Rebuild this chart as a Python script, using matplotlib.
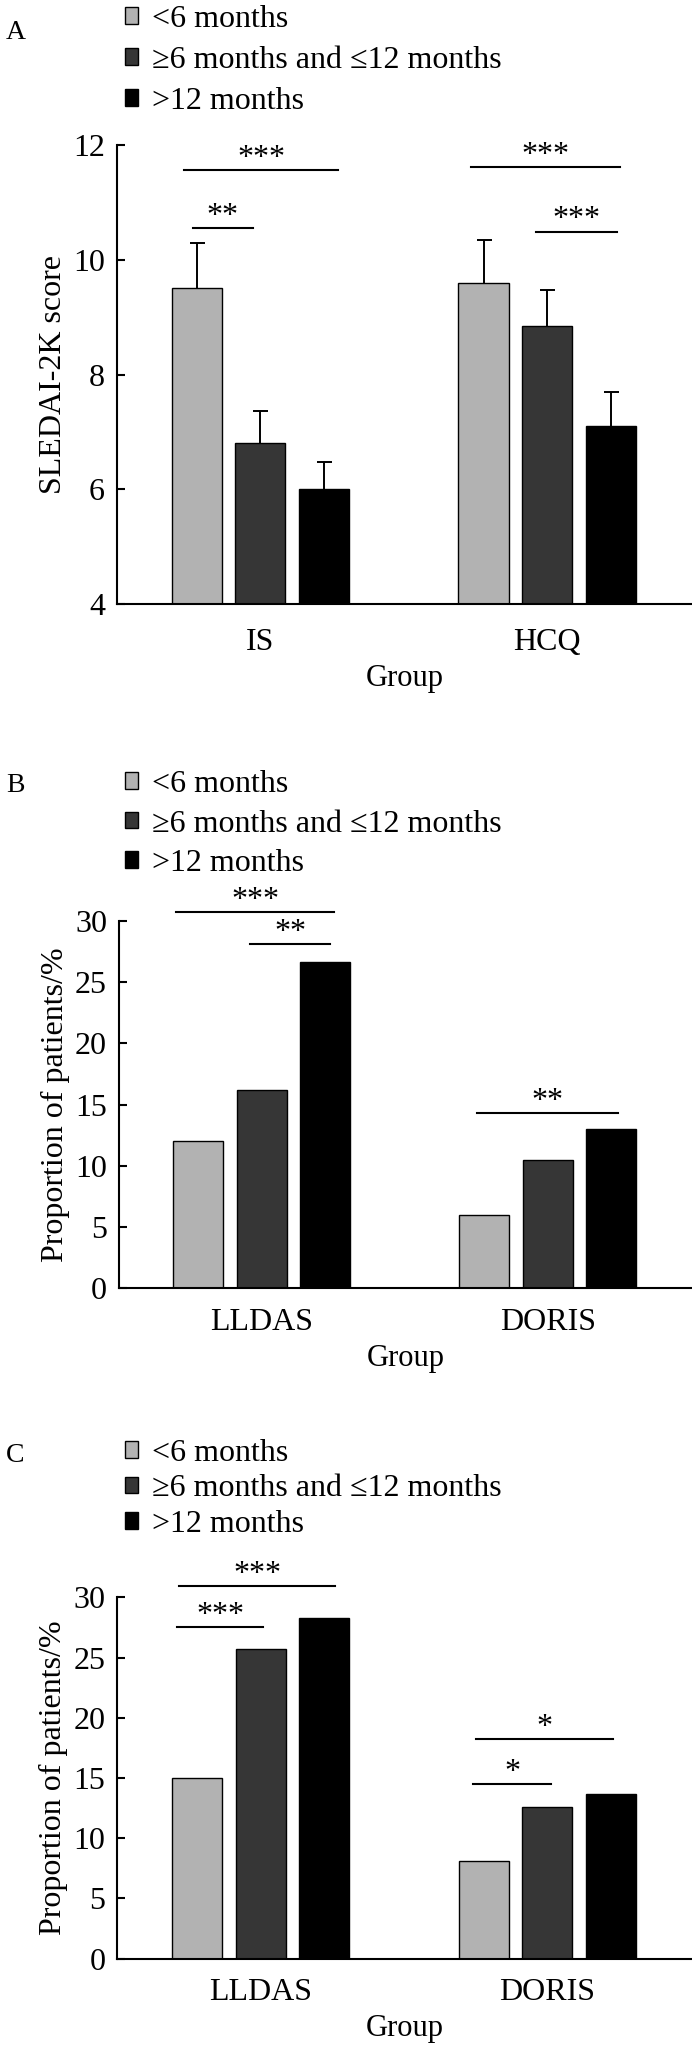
import matplotlib
matplotlib.use('Agg')
import matplotlib.pyplot as plt
import numpy as np

plt.rcParams['font.family'] = ['Liberation Serif', 'DejaVu Serif']

series = ['<6 months', '≥6 months and ≤12 months', '>12 months']
colors = ['#b2b2b2', '#363636', '#000000']

# panel A: SLEDAI-2K score (mean with upper error)
a_groups = ['IS', 'HCQ']
a_lt6 = [9.5, 9.6]
a_6to12 = [6.8, 8.85]
a_gt12 = [6.0, 7.1]
a_err_lt6 = [0.8, 0.75]
a_err_6to12 = [0.57, 0.63]
a_err_gt12 = [0.47, 0.6]
a_sig = [(-0.265, 0.27, 11.56, '***'), (-0.236, -0.027, 10.55, '**'),
         (0.735, 1.255, 11.62, '***'), (0.962, 1.243, 10.49, '***')]

# panel B: proportion of patients (%)
b_groups = ['LLDAS', 'DORIS']
b_lt6 = [12.0, 6.0]
b_6to12 = [16.2, 10.5]
b_gt12 = [26.6, 13.0]
b_sig = [(-0.299, 0.253, 30.7, '***'), (-0.04, 0.238, 28.1, '**'),
         (0.754, 1.246, 14.3, '**')]

# panel C: proportion of patients (%)
c_groups = ['LLDAS', 'DORIS']
c_lt6 = [15.0, 8.1]
c_6to12 = [25.7, 12.6]
c_gt12 = [28.3, 13.7]
c_sig = [(-0.283, 0.259, 30.9, '***'), (-0.292, 0.01, 27.5, '***'),
         (0.75, 1.23, 18.2, '*'), (0.742, 1.014, 14.5, '*')]

W, H = 692, 2058
fig = plt.figure(figsize=(W / 100, H / 100), dpi=100)

width = 0.175
step = 0.222


def panel(px_left, px_top, px_bottom, letter, letter_base, legend_top, spacing,
          tick_pad, groups, vals, errs, ylim, yticks, ylabel, sig):
    ax = fig.add_axes([px_left / W, 1 - px_bottom / H, 1 - px_left / W,
                       (px_bottom - px_top) / H])
    x = np.arange(len(groups))
    handles = []
    for i, (v, c, lab) in enumerate(zip(vals, colors, series)):
        pos = x + (i - 1) * step
        b = ax.bar(pos, v, width, color=c, edgecolor='black', linewidth=1.0,
                   label=lab, zorder=2)
        handles.append(b)
        if errs is not None:
            eb = ax.errorbar(pos, v, yerr=[np.zeros(len(v)), errs[i]],
                             fmt='none', ecolor='black', elinewidth=1.4,
                             capsize=5.4, capthick=1.4, zorder=1)
            # only the upper cap is drawn in the original
            eb[1][0].set_visible(False)

    for x0, x1, y, lab in sig:
        ax.plot([x0, x1], [y, y], color='black', lw=1.5, clip_on=False)
        ax.annotate(lab, xy=((x0 + x1) / 2, y), xytext=(0, 3),
                    textcoords='offset points', ha='center', va='baseline',
                    fontsize=23, annotation_clip=False)

    ax.set_xlim(-0.5, 1.505)
    ax.set_ylim(*ylim)
    ax.set_yticks(yticks)
    ax.set_xticks(x)
    ax.set_xticklabels(groups)
    for s in ['top', 'right']:
        ax.spines[s].set_visible(False)
    for s in ['left', 'bottom']:
        ax.spines[s].set_linewidth(1.5)
    ax.tick_params(axis='y', direction='in', length=6, width=1.5, pad=8.6,
                   labelsize=23)
    ax.tick_params(axis='x', length=0, pad=tick_pad, labelsize=23)
    ax.set_xlabel('Group', fontsize=22, labelpad=5)
    ax.set_ylabel(ylabel, fontsize=23, labelpad=4)

    ax.legend(handles=handles, loc='upper left',
              bbox_to_anchor=(125 / W, 1 - legend_top / H),
              bbox_transform=fig.transFigure, frameon=False, borderpad=0,
              borderaxespad=0, handlelength=0.42, handleheight=0.42,
              handletextpad=0.42, labelspacing=spacing, fontsize=23)

    fig.text(6 / W, 1 - letter_base / H, letter, fontsize=20, va='baseline')
    return ax


panel(117, 145, 604, 'A', 39, 5, 0.37, 17, a_groups,
      [a_lt6, a_6to12, a_gt12], [a_err_lt6, a_err_6to12, a_err_gt12],
      (4, 12), [4, 6, 8, 10, 12], 'SLEDAI-2K score', a_sig)

panel(119, 920.7, 1288.3, 'B', 792, 770, 0.33, 14, b_groups,
      [b_lt6, b_6to12, b_gt12], None,
      (0, 30), [0, 5, 10, 15, 20, 25, 30], 'Proportion of patients/%', b_sig)

panel(117.3, 1597.3, 1958.7, 'C', 1462, 1439, 0.2, 14, c_groups,
      [c_lt6, c_6to12, c_gt12], None,
      (0, 30), [0, 5, 10, 15, 20, 25, 30], 'Proportion of patients/%', c_sig)

fig.savefig('out.png', dpi=100)
